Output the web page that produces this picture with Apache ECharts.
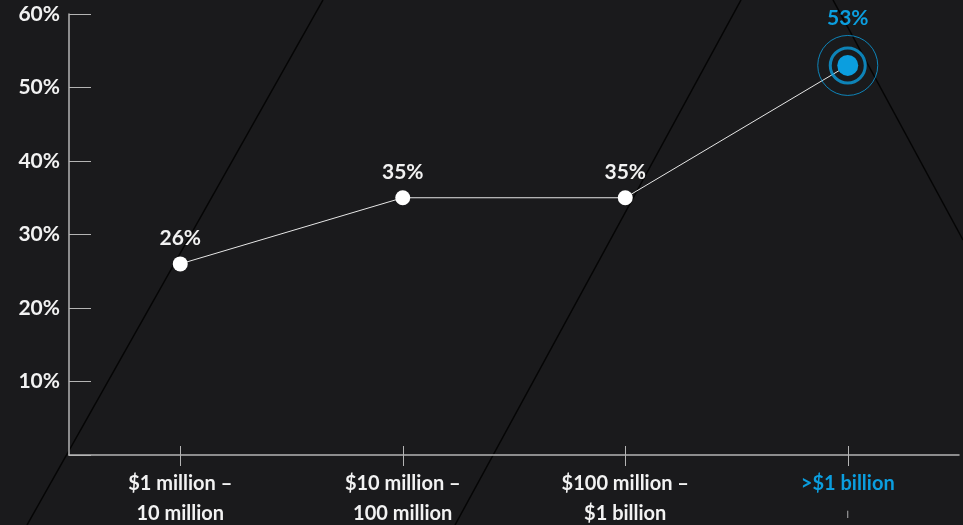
<!DOCTYPE html>
<html>
  <head>
    <meta charset="utf-8" />
    <title>Revenue band chart</title>
    <script src="https://cdn.jsdelivr.net/npm/echarts@6/dist/echarts.min.js"></script>
    <style>
      html, body { margin: 0; padding: 0; background: #1a1a1c; }
    </style>
  </head>

  <body>
    <div id="main" style="width: 963px; height: 525px"></div>

    <script>
      // data
      var categories = ["$1 million –\n10 million", "$10 million –\n100 million", "$100 million –\n$1 billion", ">$1 billion"];
      var values = [26, 35, 35, 53];
      var yTicks = [0, 10, 20, 30, 40, 50, 60];

      var blue = "#0b9edf";
      var font = "Lato";
      var highlight = values.length - 1;

      // only the last point gets the rings
      var ringData = values.map(function (v, i) {
        return i === highlight ? v : null;
      });

      var lineData = values.map(function (v, i) {
        if (i !== highlight) return v;
        return {
          value: v,
          symbolSize: 21,
          itemStyle: { color: blue },
          label: { color: blue, distance: 26 },
        };
      });

      var option = {
        backgroundColor: "#1a1a1c",
        animation: false,
        // decorative diagonal strokes behind the chart
        graphic: [
          { type: "line", z: -1, shape: { x1: 27, y1: 525, x2: 323, y2: 0 }, style: { stroke: "#050505", lineWidth: 1.5 } },
          { type: "line", z: -1, shape: { x1: 455, y1: 525, x2: 741, y2: 0 }, style: { stroke: "#050505", lineWidth: 1.5 } },
          { type: "line", z: -1, shape: { x1: 833, y1: 0, x2: 963, y2: 240 }, style: { stroke: "#050505", lineWidth: 1.5 } },
        ],
        grid: { left: 69, right: 4, top: 14, bottom: 70, outerBoundsMode: "none", containLabel: false },
        xAxis: [
          {
            type: "category",
            data: categories,
            axisLine: { show: true, lineStyle: { color: "#b4b4b4", width: 1.5 } },
            axisTick: { show: true, interval: 0, alignWithLabel: true, length: 11, lineStyle: { color: "#b4b4b4", width: 1 } },
            axisLabel: {
              margin: 14,
              color: "#f2f2f2",
              fontFamily: font,
              fontWeight: "bold",
              fontSize: 20,
              lineHeight: 30,
              formatter: function (v, i) {
                if (i === highlight) return "{b|" + v + "}\n{t||}";
                return v;
              },
              rich: {
                b: { color: blue, fontFamily: font, fontWeight: "bold", fontSize: 20, lineHeight: 30 },
                t: { color: "#cccccc", fontSize: 8, lineHeight: 30 },
              },
            },
          },
          {
            // upper half of the ticks that cross the axis
            type: "category",
            data: categories,
            position: "bottom",
            axisLine: { show: false },
            axisLabel: { show: false },
            axisTick: { show: true, interval: 0, alignWithLabel: true, inside: true, length: 9, lineStyle: { color: "#b4b4b4", width: 1 } },
          },
        ],
        yAxis: {
          type: "value",
          min: yTicks[0],
          max: yTicks[yTicks.length - 1],
          interval: 10,
          splitLine: { show: false },
          axisLine: { show: true, lineStyle: { color: "#b4b4b4", width: 1.5 } },
          axisTick: { show: true, inside: true, length: 22, lineStyle: { color: "#b4b4b4" } },
          axisLabel: {
            margin: 9,
            color: "#f2f2f2",
            fontFamily: font,
            fontWeight: "bold",
            fontSize: 21,
            formatter: function (v) {
              return v === 0 ? "" : v + "%";
            },
          },
        },
        series: [
          {
            type: "line",
            data: lineData,
            z: 3,
            symbol: "circle",
            symbolSize: 15,
            lineStyle: { color: "#e6e6e6", width: 1 },
            itemStyle: { color: "#ffffff" },
            label: {
              show: true,
              position: "top",
              distance: 8,
              color: "#f2f2f2",
              fontFamily: font,
              fontWeight: "bold",
              fontSize: 21,
              formatter: "{c}%",
            },
          },
          {
            type: "scatter",
            data: ringData,
            z: 4,
            symbolSize: 35,
            itemStyle: { color: "transparent", borderColor: blue, borderWidth: 3 },
          },
          {
            type: "scatter",
            data: ringData,
            z: 4,
            symbolSize: 60,
            itemStyle: { color: "transparent", borderColor: blue, borderWidth: 1 },
          },
        ],
      };

      var myChart = echarts.init(document.getElementById("main"));
      myChart.setOption(option);
    </script>
  </body>
</html>
